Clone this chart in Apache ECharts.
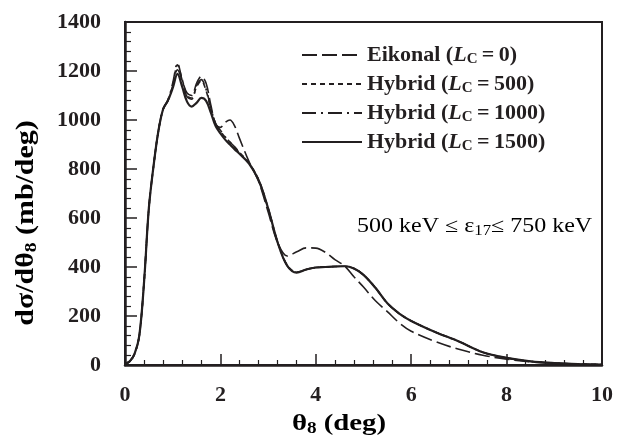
<!DOCTYPE html>
<html>
<head>
<meta charset="utf-8">
<script src="https://cdn.jsdelivr.net/npm/echarts@6/dist/echarts.min.js"></script>
<style>html,body{margin:0;padding:0;background:#fff}#c{width:625px;height:438px}</style>
</head>
<body>
<div id="c"></div>
<script>
// theta_8 (deg)
const theta = [0, 0.1, 0.2, 0.3, 0.4, 0.5, 0.6, 0.7, 0.8, 0.9, 1.0, 1.1, 1.2, 1.3, 1.4, 1.5, 1.6, 1.7, 1.8, 1.9, 2.0, 2.1, 2.2, 2.3, 2.4, 2.6, 2.8, 3.0, 3.2, 3.4, 3.6, 3.8, 4.0, 4.2, 4.4, 4.6, 4.8, 5.0, 5.25, 5.5, 5.75, 6.0, 6.5, 7.0, 7.5, 8.0, 8.5, 9.0, 9.5, 10];
// dσ/dθ8 (mb/deg)
const eikonal0 = [5, 15, 45, 120, 340, 640, 815, 955, 1045, 1078, 1140, 1205, 1160, 1110, 1100, 1150, 1178, 1150, 1060, 985, 970, 990, 1000, 975, 925, 830, 750, 625, 500, 445, 462, 478, 477, 460, 430, 405, 360, 318, 262, 218, 172, 138, 96, 64, 40, 24, 13, 7, 3, 1];
const hybrid500 = [5, 15, 45, 120, 340, 640, 815, 955, 1045, 1080, 1140, 1225, 1165, 1100, 1090, 1135, 1160, 1120, 1045, 985, 955, 930, 910, 890, 868, 825, 757, 640, 502, 408, 379, 390, 398, 400, 402, 403, 394, 368, 315, 252, 210, 180, 135, 96, 52, 29, 15, 8, 4, 2];
const hybrid1000 = [5, 15, 45, 120, 340, 640, 815, 955, 1045, 1082, 1150, 1232, 1160, 1095, 1085, 1140, 1165, 1125, 1050, 985, 958, 932, 910, 890, 866, 824, 756, 640, 501, 406, 378, 390, 398, 400, 402, 403, 394, 368, 315, 252, 210, 180, 135, 96, 52, 29, 15, 8, 4, 2];
const hybrid1500 = [5, 15, 45, 120, 340, 640, 815, 955, 1045, 1080, 1130, 1188, 1135, 1075, 1055, 1070, 1090, 1078, 1030, 975, 945, 920, 900, 880, 862, 822, 755, 640, 500, 405, 377, 390, 398, 400, 402, 403, 394, 368, 315, 252, 210, 180, 135, 96, 52, 29, 15, 8, 4, 2];
const seriesNames = ['Eikonal', 'Hybrid 500', 'Hybrid 1000', 'Hybrid 1500'];
const legendLabels = {
  'Eikonal': ['Eikonal', '0'],
  'Hybrid 500': ['Hybrid', '500'],
  'Hybrid 1000': ['Hybrid', '1000'],
  'Hybrid 1500': ['Hybrid', '1500']
};
const xTicks = [0, 2, 4, 6, 8, 10];
const yTicks = [0, 200, 400, 600, 800, 1000, 1200, 1400];

const ink = '#231f20';
const serif = '"Liberation Serif", "DejaVu Serif", serif';
function pairs(ys) { return theta.map((x, i) => [x, ys[i]]); }

const chart = echarts.init(document.getElementById('c'), null, {renderer: 'canvas'});
const styles = [
  {type: [15, 5], width: 1.6},
  {type: [5, 4], width: 1.6},
  {type: [14, 5, 2, 5], width: 1.6},
  {type: 'solid', width: 2.2}
];
const data = [eikonal0, hybrid500, hybrid1000, hybrid1500];

chart.setOption({
  animation: false,
  backgroundColor: '#fff',
  grid: {left: 125, right: 23, top: 22, bottom: 73, show: true, borderColor: ink, borderWidth: 2, backgroundColor: 'transparent'},
  legend: {
    orient: 'vertical',
    left: 296,
    top: 39,
    itemWidth: 60,
    itemHeight: 14,
    itemGap: 6,
    itemStyle: {opacity: 0},
    data: seriesNames,
    textStyle: {
      color: ink, fontFamily: serif, fontWeight: 'bold', fontSize: 22,
      rich: {
        b: {color: ink, fontFamily: serif, fontWeight: 'bold', fontSize: 22},
        i: {color: ink, fontFamily: serif, fontWeight: 'bold', fontStyle: 'italic', fontSize: 22},
        s: {color: ink, fontFamily: serif, fontWeight: 'bold', fontSize: 15, padding: [9, 0, 0, 0]}
      }
    },
    formatter: function (name) {
      const l = legendLabels[name];
      return '{b|' + l[0] + ' (}{i|L}{s|C}{b|\u2009=\u2009' + l[1] + ')}';
    }
  },
  xAxis: {
    type: 'value', min: 0, max: 10, interval: 2,
    axisLine: {show: true, onZero: false, lineStyle: {color: ink, width: 2.5}},
    axisTick: {show: true, inside: true, length: 11, lineStyle: {color: ink, width: 1.5}},
    minorTick: {show: true, splitNumber: 5, length: 5, lineStyle: {color: ink, width: 1.2}},
    splitLine: {show: false},
    axisLabel: {color: ink, fontFamily: serif, fontWeight: 'bold', fontSize: 22, margin: 19,
      formatter: v => xTicks.includes(v) ? String(v) : ''}
  },
  yAxis: {
    type: 'value', min: 0, max: 1400, interval: 200,
    axisLine: {show: true, onZero: false, lineStyle: {color: ink, width: 2.5}},
    axisTick: {show: true, inside: true, length: 12, lineStyle: {color: ink, width: 1.5}},
    minorTick: {show: true, splitNumber: 5, length: 6, lineStyle: {color: ink, width: 1.2}},
    splitLine: {show: false},
    axisLabel: {color: ink, fontFamily: serif, fontWeight: 'bold', fontSize: 22, margin: 24,
      formatter: v => yTicks.includes(v) ? String(v) : ''}
  },
  series: seriesNames.map((n, k) => ({
    name: n, type: 'line', data: pairs(data[k]), smooth: 0.35, showSymbol: false,
    lineStyle: {color: ink, width: styles[k].width, type: styles[k].type},
    itemStyle: {color: ink},
    z: 10 - k
  })),
  graphic: [
    {
      type: 'text', x: 357, y: 227, scaleX: 1.2, z: 100,
      style: {
        text: '{r|500 keV \u2264 \u03b5}{s|17}{r|\u2264 750 keV}',
        align: 'left', verticalAlign: 'middle',
        rich: {
          r: {fontFamily: serif, fontSize: 20, color: ink},
          s: {fontFamily: serif, fontSize: 14, color: ink, padding: [9, 0, 0, 0]}
        }
      }
    },
    {
      type: 'text', x: 339, y: 424, scaleX: 1.2, z: 100,
      style: {
        text: '{r|\u03b8}{s|8}{r| (deg)}',
        align: 'center', verticalAlign: 'middle',
        rich: {
          r: {fontFamily: serif, fontWeight: 'bold', fontSize: 24, color: ink},
          s: {fontFamily: serif, fontWeight: 'bold', fontSize: 16, color: ink, padding: [10, 0, 0, 0]}
        }
      }
    },
    {
      type: 'text', x: 26, y: 223, rotation: Math.PI / 2, scaleX: 1.15, z: 100,
      style: {
        text: '{r|d\u03c3/d\u03b8}{s|8}{r| (mb/deg)}',
        align: 'center', verticalAlign: 'middle',
        rich: {
          r: {fontFamily: serif, fontWeight: 'bold', fontSize: 26, color: ink},
          s: {fontFamily: serif, fontWeight: 'bold', fontSize: 17, color: ink, padding: [11, 0, 0, 0]}
        }
      }
    }
  ]
});
</script>
</body>
</html>
